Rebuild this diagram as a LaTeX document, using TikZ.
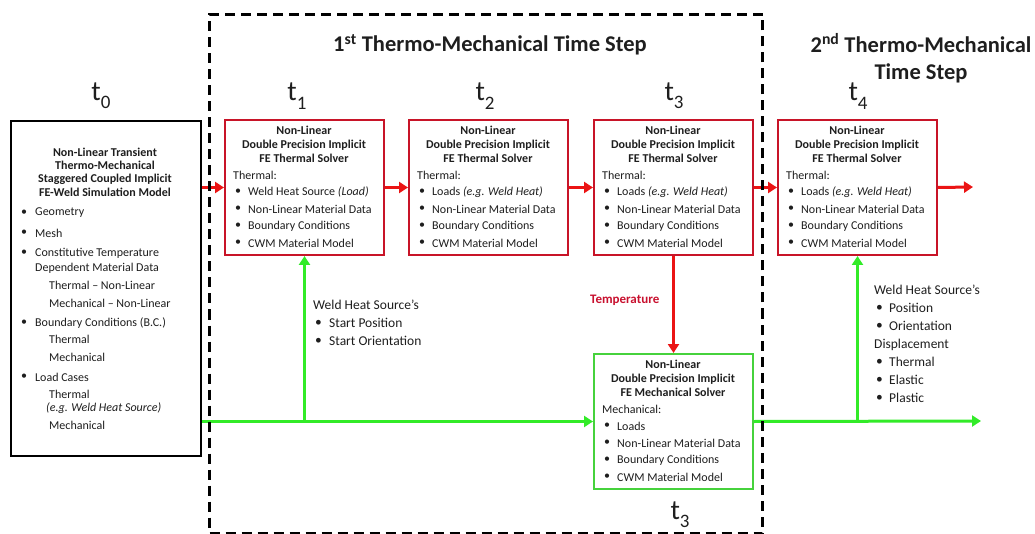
\documentclass[tikz,border=0pt]{standalone}
\usepackage{fontspec}
\setmainfont{Carlito}
\usetikzlibrary{arrows.meta}
\definecolor{boxred}{RGB}{200,20,40}
\definecolor{arrred}{RGB}{235,20,20}
\definecolor{temred}{RGB}{200,16,46}
\definecolor{grn}{RGB}{50,235,40}
\definecolor{boxgrn}{RGB}{70,210,60}
\definecolor{txt}{RGB}{30,30,30}
\newcommand\tsub[2]{t\raisebox{-0.3em}{\fontsize{19}{19}\selectfont #2}}
\newcommand\solverbox[7]{%
  \node[box, draw=#4, minimum width=159pt, minimum height=135pt] (#1) at (#2,#3) {};
  \begin{scope}[shift={(#2,#3)}]
    \node[ttl] (#1t) at (80,25) {Non-Linear\\Double Precision Implicit\\FE #5 Solver};
    \node[lst] (#1h) at (9,56) {#6};
    \node[lst] (#1b1) at (11,73) {\textbullet};
    \node[lst] (#1i1) at (24,73) {#7};
    \node[lst] (#1b2) at (11,90) {\textbullet};
    \node[lst] (#1i2) at (24,90) {Non-Linear Material Data};
    \node[lst] (#1b3) at (11,107) {\textbullet};
    \node[lst] (#1i3) at (24,107) {Boundary Conditions};
    \node[lst] (#1b4) at (11,124) {\textbullet};
    \node[lst] (#1i4) at (24,124) {CWM Material Model};
  \end{scope}}
\begin{document}
\begin{tikzpicture}[x=1pt,y=-1pt,
  box/.style={draw, line width=2pt, anchor=north west, inner sep=0pt, fill=white},
  ttl/.style={font=\bfseries\fontsize{12}{14}\selectfont, align=center, inner sep=0pt, text=txt},
  lst/.style={font=\fontsize{12}{14}\selectfont, anchor=west, inner sep=0pt, text=txt},
  lab/.style={font=\fontsize{13.5}{15}\selectfont, anchor=west, inner sep=0pt, text=txt},
  redarr/.style={draw=arrred, line width=3pt, -{Triangle[length=9pt,width=11pt]}},
  grnarr/.style={draw=grn, line width=3pt, -{Triangle[length=9pt,width=11pt]}},
  tlab/.style={font=\fontsize{28}{28}\selectfont, text=txt, inner sep=0pt},
  steplab/.style={font=\bfseries\fontsize{22.5}{27}\selectfont, text=txt, align=center, inner sep=0pt},
  frame/.style={draw=black, line width=3pt, dash pattern=on 10pt off 6pt, anchor=north west, inner sep=0pt, minimum width=553pt, minimum height=519pt}
]
\useasboundingbox (0,0) rectangle (1035,534);

% model box
\node[box, draw=black, minimum width=190pt, minimum height=335pt] (model) at (10,120) {};
\node[ttl, font=\bfseries\fontsize{12}{13.3}\selectfont] (modelt) at (105,172) {Non-Linear Transient\\Thermo-Mechanical\\Staggered Coupled Implicit\\FE-Weld Simulation Model};
\node[lst] (mb1) at (21,213) {\textbullet};
\node[lst] (m1) at (35,213) {Geometry};
\node[lst] (mb2) at (21,233) {\textbullet};
\node[lst] (m2) at (35,233) {Mesh};
\node[lst] (mb3) at (21,253) {\textbullet};
\node[lst] (m3) at (35,253) {Constitutive Temperature};
\node[lst] (m3b) at (35,268) {Dependent Material Data};
\node[lst] (m3c) at (49,285) {Thermal -- Non-Linear};
\node[lst] (m3d) at (49,303) {Mechanical -- Non-Linear};
\node[lst] (mb4) at (21,323) {\textbullet};
\node[lst] (m4) at (35,323) {Boundary Conditions (B.C.)};
\node[lst] (m4b) at (49,339) {Thermal};
\node[lst] (m4c) at (49,357) {Mechanical};
\node[lst] (mb5) at (21,377) {\textbullet};
\node[lst] (m5) at (35,377) {Load Cases};
\node[lst] (m5b) at (49,394) {Thermal};
\node[lst] (m5c) at (46,408) {\itshape (e.g. Weld Heat Source)};
\node[lst] (m5d) at (49,425) {Mechanical};

% solver boxes
\solverbox{b1}{224}{119}{boxred}{Thermal}{Thermal:}{Weld Heat Source \textit{(Load)}}
\solverbox{b2}{408}{119}{boxred}{Thermal}{Thermal:}{Loads \textit{(e.g. Weld Heat)}}
\solverbox{b3}{593}{119}{boxred}{Thermal}{Thermal:}{Loads \textit{(e.g. Weld Heat)}}
\solverbox{b4}{777}{119}{boxred}{Thermal}{Thermal:}{Loads \textit{(e.g. Weld Heat)}}
\solverbox{mech}{593}{353}{boxgrn}{Mechanical}{Mechanical:}{Loads}

% coordinates
\coordinate (outR) at (973,187);
\coordinate (outG) at (981,421);
\coordinate (g1) at (b1.south |- mech.west);
\coordinate (g4) at (b4.south |- mech.west);

% red arrows
\draw[redarr] (model.east |- b1.west) -- (b1.west);
\draw[redarr] (b1.east) -- (b2.west);
\draw[redarr] (b2.east) -- (b3.west);
\draw[redarr] (b3.east) -- (b4.west);
\draw[redarr] (b4.east) -- (outR);
\draw[redarr] (b3.south) -- (mech.north);

% green arrows
\draw[grnarr] (model.east |- mech.west) -- (mech.west);
\draw[grnarr] (mech.east) -- (outG);
\draw[grnarr] (g1) -- (b1.south);
\draw[grnarr] (g4) -- (b4.south);

% dashed frame
\node[frame] (fr) at (208,13) {};

% labels
\node[lab, text=temred, font=\bfseries\fontsize{13}{15}\selectfont] (temp) at (590,300) {Temperature};
\node[lab] (w1) at (313,305) {Weld Heat Source’s};
\node[lab] (w1b1) at (315,323) {\textbullet};
\node[lab] (w1i1) at (329,323) {Start Position};
\node[lab] (w1b2) at (315,341) {\textbullet};
\node[lab] (w1i2) at (329,341) {Start Orientation};

\node[lab] (w4) at (874,290) {Weld Heat Source’s};
\node[lab] (w4b1) at (876,308) {\textbullet};
\node[lab] (w4i1) at (889,308) {Position};
\node[lab] (w4b2) at (876,326) {\textbullet};
\node[lab] (w4i2) at (889,326) {Orientation};
\node[lab] (d4) at (874,345) {Displacement};
\node[lab] (d4b1) at (876,362) {\textbullet};
\node[lab] (d4i1) at (889,362) {Thermal};
\node[lab] (d4b2) at (876,380) {\textbullet};
\node[lab] (d4i2) at (889,380) {Elastic};
\node[lab] (d4b3) at (876,398) {\textbullet};
\node[lab] (d4i3) at (889,398) {Plastic};

% time labels
\node[tlab] (t0) at (101,96) {\tsub{t}{0}};
\node[tlab] (t1) at (297,96) {\tsub{t}{1}};
\node[tlab] (t2) at (485,96) {\tsub{t}{2}};
\node[tlab] (t3) at (674,96) {\tsub{t}{3}};
\node[tlab] (t4) at (858,96) {\tsub{t}{4}};
\node[tlab] (t3b) at (680,515) {\tsub{t}{3}};

\node[steplab] (s1) at (490,45) {1\textsuperscript{st} Thermo-Mechanical Time Step};
\node[steplab] (s2) at (921,58) {2\textsuperscript{nd} Thermo-Mechanical\\Time Step};
\end{tikzpicture}
\end{document}
